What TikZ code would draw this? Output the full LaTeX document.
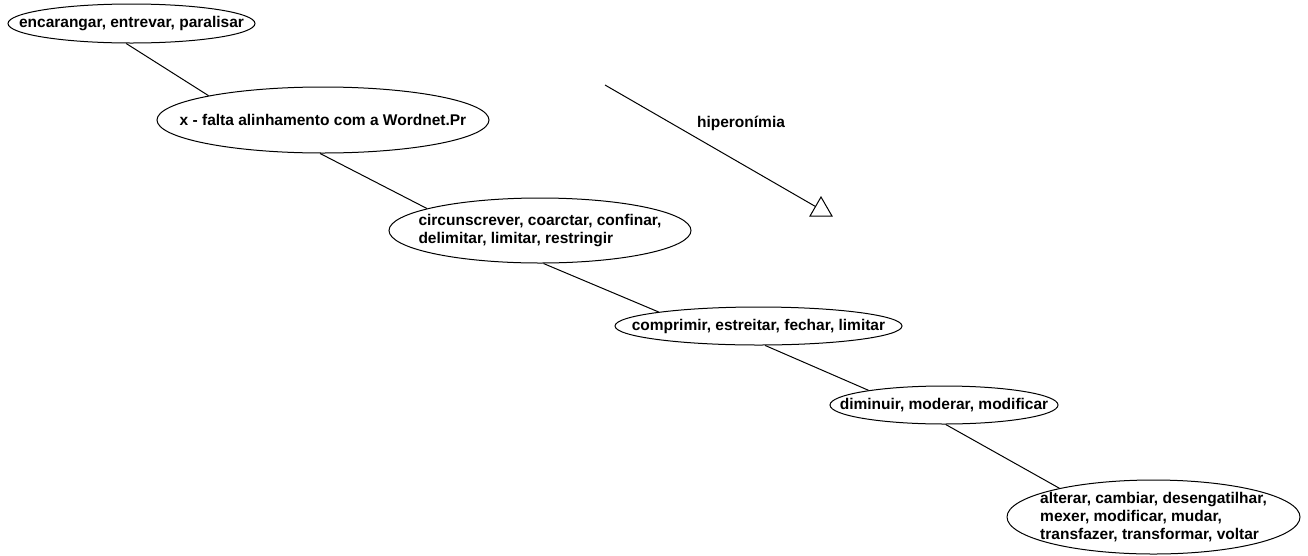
\documentclass[tikz,border=0pt]{standalone}
\usepackage{fontspec}
\setmainfont{Liberation Sans}
\usetikzlibrary{shapes.geometric}
\begin{document}
\begin{tikzpicture}[x=1pt,y=-1pt,
  ell/.style={draw, ellipse, inner sep=0pt, line width=1pt},
  lbl/.style={font=\fontsize{15.5}{17.6}\selectfont\bfseries, align=left, inner sep=0pt},
  conn/.style={line width=1pt}]
\useasboundingbox[fill=white] (0,0) rectangle (1308,555);
\node[ell, minimum width=247, minimum height=39, label={[lbl]center:{encarangar, entrevar, paralisar}}] (e1) at (131.5,23.5) {};
\node[ell, minimum width=332, minimum height=66, label={[lbl]center:{x - falta alinhamento com a Wordnet.Pr}}] (e2) at (323,120) {};
\node[ell, minimum width=302, minimum height=65, label={[lbl]center:{circunscrever, coarctar, confinar,\\delimitar, limitar, restringir}}] (e3) at (540,230.5) {};
\node[ell, minimum width=287, minimum height=38, label={[lbl]center:{comprimir, estreitar, fechar, limitar}}] (e4) at (758.5,326) {};
\node[ell, minimum width=228, minimum height=38, label={[lbl]center:{diminuir, moderar, modificar}}] (e5) at (944,405) {};
\node[ell, minimum width=293, minimum height=74, label={[lbl]center:{alterar, cambiar, desengatilhar,\\mexer, modificar, mudar,\\transfazer, transformar, voltar}}] (e6) at (1153.5,517) {};
\draw[conn] (e1.-105) -- (e2.168.5);
\draw[conn] (e2.-95) -- (e3.169.2);
\draw[conn] (e3.-84) -- (e4.172.5);
\draw[conn] (e4.-71) -- (e5.169.4);
\draw[conn] (e5.-85) -- (e6.163);
\node[draw, line width=1pt, regular polygon, regular polygon sides=3, minimum size=25.4, inner sep=0pt] (tri) at (821,209.7) {};
\coordinate (hs) at (605,85);
\draw[conn] (hs) -- (tri);
\node[lbl] (hl) at (741,123) {hiperonímia};
\end{tikzpicture}
\end{document}
